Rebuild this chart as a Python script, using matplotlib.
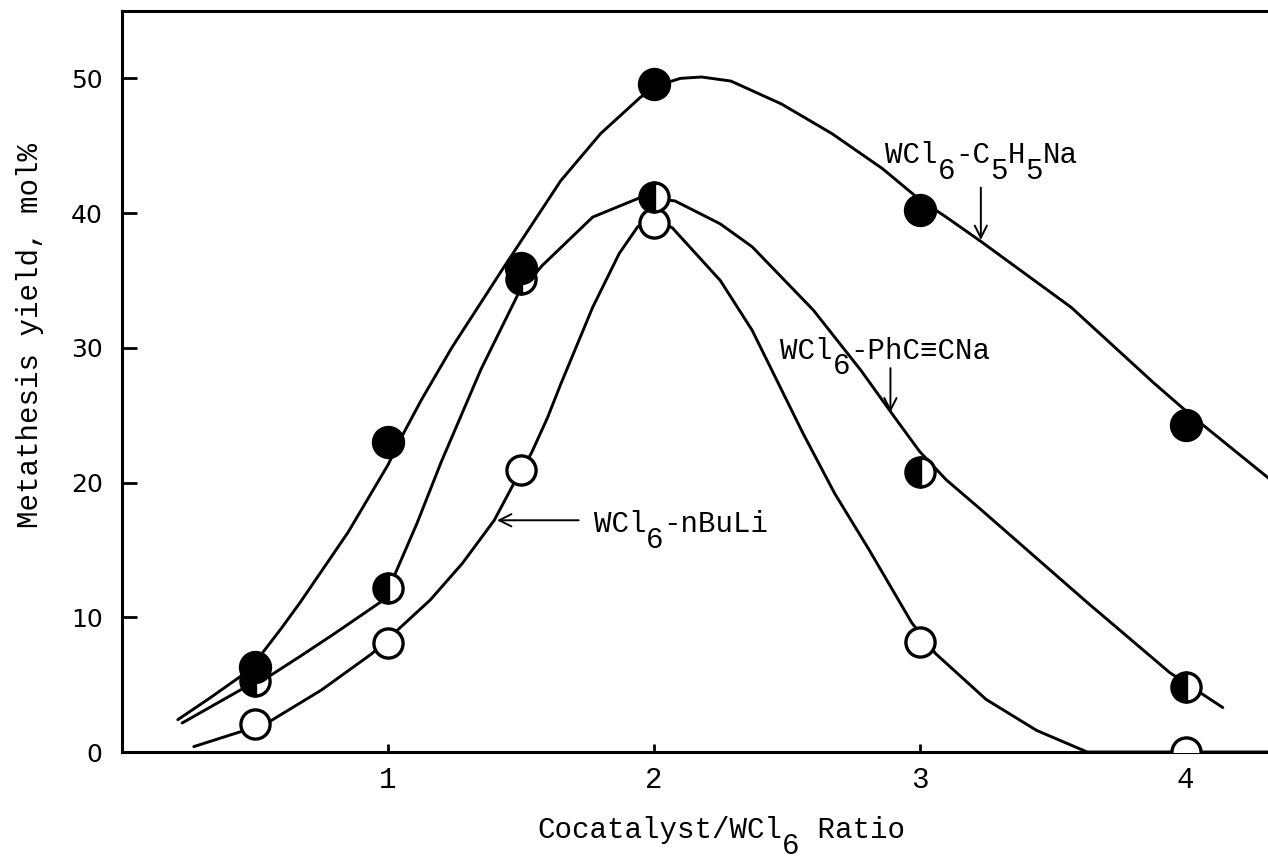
import matplotlib.pyplot as plt

# -----------------------
# DATA
# -----------------------
ratio = [0.5, 1, 1.5, 2, 3, 4]

# measured points
c5h5na_pts = [6.3, 23.0, 35.9, 49.6, 40.2, 24.3]
phccna_pts = [5.3, 12.2, 35.1, 41.2, 20.8, 4.8]
nbuli_pts = [2.1, 8.1, 20.9, 39.3, 8.2, 0.0]

# hand-drawn curves
c5h5na_curve_x = [0.21, 0.33, 0.445, 0.53, 0.60, 0.67, 0.85, 1.00, 1.06, 1.125, 1.24, 1.43,
                  1.65, 1.80, 1.95, 2.02, 2.10, 2.18, 2.29, 2.48, 2.67, 2.86, 3.00, 3.10,
                  3.23, 3.57, 3.88, 4.02, 4.32]
c5h5na_curve_y = [2.4, 4.0, 5.6, 7.4, 9.2, 11.1, 16.3, 21.3, 23.7, 26.1, 30.0, 35.8,
                  42.4, 45.9, 48.6, 49.5, 50.0, 50.1, 49.8, 48.1, 45.9, 43.3, 41.0, 39.7,
                  37.9, 33.0, 27.4, 25.0, 20.2]

phccna_curve_x = [0.226, 0.445, 0.56, 0.67, 0.80, 0.985, 1.11, 1.20, 1.30, 1.35, 1.49,
                  1.58, 1.77, 1.955, 2.08, 2.25, 2.37, 2.60, 2.78, 2.90, 3.00, 3.10,
                  3.23, 3.63, 3.94, 4.14]
phccna_curve_y = [2.15, 4.6, 5.7, 7.1, 8.8, 11.3, 17.0, 21.5, 26.1, 28.4, 34.0,
                  36.1, 39.7, 41.2, 40.9, 39.2, 37.5, 32.8, 28.3, 25.0, 22.3, 20.2,
                  18.0, 11.1, 5.9, 3.3]

nbuli_curve_x = [0.27, 0.445, 0.55, 0.75, 0.94, 1.16, 1.28, 1.40, 1.47, 1.54, 1.60,
                 1.65, 1.77, 1.87, 1.94, 2.00, 2.07, 2.25, 2.37, 2.56, 2.68,
                 2.81, 2.97, 3.06, 3.25, 3.44, 3.63, 4.31]
nbuli_curve_y = [0.4, 1.5, 2.2, 4.6, 7.3, 11.3, 14.0, 17.2, 19.8, 22.2, 24.8,
                 27.3, 33.0, 37.0, 39.0, 39.6, 38.9, 35.0, 31.3, 23.7, 19.2,
                 15.0, 9.6, 7.3, 3.9, 1.6, 0.0, 0.0]

x_ticks = [1, 2, 3, 4]
y_ticks = [0, 10, 20, 30, 40, 50]

# -----------------------
# FIGURE
# -----------------------
W, H = 1268, 859
fig = plt.figure(figsize=(W / 100, H / 100), dpi=100)
ax = fig.add_axes([122 / W, 1 - 752 / H, 1 - 122 / W, (752 - 11) / H])
ax.set_xlim(0, 4.31)
ax.set_ylim(0, 55)

MONO = "Liberation Mono"
FS = 21

for s in ["left", "top", "bottom"]:
    ax.spines[s].set_linewidth(2.2)
ax.spines["right"].set_visible(False)

lw = 2.1
for cx, cy in [(c5h5na_curve_x, c5h5na_curve_y),
               (phccna_curve_x, phccna_curve_y),
               (nbuli_curve_x, nbuli_curve_y)]:
    ax.plot(cx, cy, color="black", lw=lw, solid_joinstyle="round",
            solid_capstyle="round", zorder=2)

ax.plot(ratio, nbuli_pts, "o", ms=21, mfc="white", mec="black", mew=2.4, zorder=3)
ax.plot(ratio, phccna_pts, "o", ms=21, fillstyle="left", mfc="black", mfcalt="white",
        mec="black", mew=2.4, zorder=4)
ax.plot(ratio, c5h5na_pts, "o", ms=23, mfc="black", mec="black", mew=1, zorder=5)

ax.set_xticks(x_ticks)
ax.set_xticklabels([str(t) for t in x_ticks], fontfamily=MONO, fontsize=FS)
ax.set_yticks(y_ticks)
ax.set_yticklabels([str(t) for t in y_ticks], fontfamily="DejaVu Sans", fontsize=18)
ax.tick_params(axis="x", direction="in", length=6, width=2, pad=10)
ax.tick_params(axis="y", direction="in", length=11, width=2, pad=14)


# typewriter text: subscripts are full size, dropped below the line
def typed(x, y, parts, size=FS):
    col = 0
    for txt, sub in parts:
        ax.annotate(txt, xy=(x, y), xytext=(col * 0.6 * size, -11 if sub else 0),
                    textcoords="offset points", ha="left", va="baseline",
                    fontfamily=MONO, fontsize=size, annotation_clip=False)
        col += len(txt)


typed(2.87, 43.7, [("WCl", 0), ("6", 1), ("-C", 0), ("5", 1), ("H", 0), ("5", 1), ("Na", 0)])
typed(2.475, 29.2, [("WCl", 0), ("6", 1), ("-PhC\u2261CNa", 0)])
typed(1.774, 16.3, [("WCl", 0), ("6", 1), ("-nBuLi", 0)])
typed(1.562, -6.4, [("Cocatalyst/WCl", 0), ("6", 1), (" Ratio", 0)])

arrow = dict(arrowstyle="->", lw=1.4, color="black", mutation_scale=22)
ax.annotate("", xy=(3.23, 37.8), xytext=(3.23, 42.1), arrowprops=arrow)
ax.annotate("", xy=(2.89, 25.0), xytext=(2.89, 28.7), arrowprops=arrow)
ax.annotate("", xy=(1.40, 17.2), xytext=(1.728, 17.2), arrowprops=arrow)

fig.text(30 / W, 1 - 335 / H, "Metathesis yield, mol%", rotation=90,
         ha="center", va="center", fontfamily=MONO, fontsize=FS)

fig.savefig("out.png", dpi=100)
